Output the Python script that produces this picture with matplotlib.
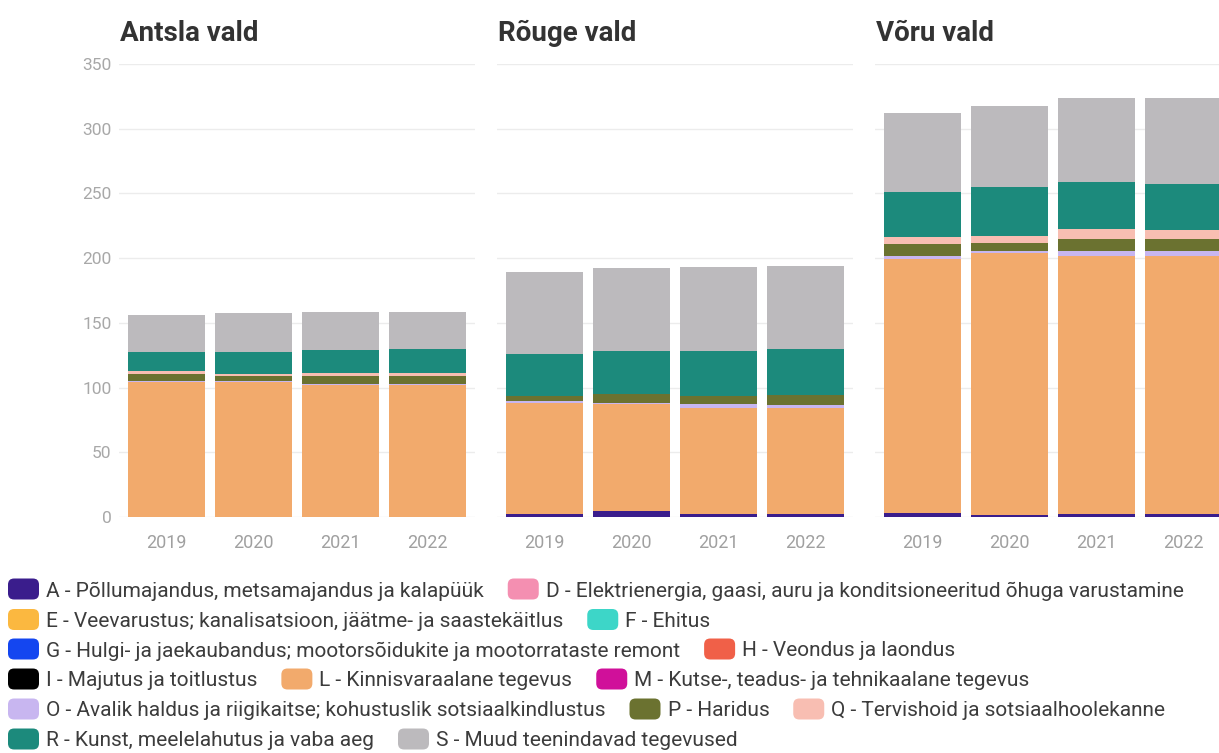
import matplotlib
matplotlib.use('Agg')
import matplotlib.pyplot as plt
from matplotlib.patches import FancyBboxPatch
import numpy as np

years = ['2019', '2020', '2021', '2022']
municipalities = ['Antsla vald', 'Rõuge vald', 'Võru vald']

sector_labels = [
    'A - Põllumajandus, metsamajandus ja kalapüük',
    'D - Elektrienergia, gaasi, auru ja konditsioneeritud õhuga varustamine',
    'E - Veevarustus; kanalisatsioon, jäätme- ja saastekäitlus',
    'F - Ehitus',
    'G - Hulgi- ja jaekaubandus; mootorsõidukite ja mootorrataste remont',
    'H - Veondus ja laondus',
    'I - Majutus ja toitlustus',
    'L - Kinnisvaraalane tegevus',
    'M - Kutse-, teadus- ja tehnikaalane tegevus',
    'O - Avalik haldus ja riigikaitse; kohustuslik sotsiaalkindlustus',
    'P - Haridus',
    'Q - Tervishoid ja sotsiaalhoolekanne',
    'R - Kunst, meelelahutus ja vaba aeg',
    'S - Muud teenindavad tegevused',
]
sector_colors = ['#3a1d8c', '#f48fb1', '#fbb840', '#3dd6c8', '#1446f0', '#f06048',
                 '#000000', '#f2aa6c', '#d0109a', '#c8b6f0', '#6b7230', '#f8beb2',
                 '#1c8a7c', '#bcbabd']

# rows: Antsla, Rõuge, Võru ; columns: 2019..2022
A_vals = [[0, 0, 0, 0], [2.5, 4.5, 2, 2], [3, 1.5, 2, 2]]
D_vals = [[0, 0, 0, 0], [0, 0, 0, 0], [0, 0, 0, 0]]
E_vals = [[0, 0, 0, 0], [0, 0, 0, 0], [0, 0, 0, 0]]
F_vals = [[0, 0, 0, 0], [0, 0, 0, 0], [0, 0, 0, 0]]
G_vals = [[0, 0, 0, 0], [0, 0, 0, 0], [0, 0, 0, 0]]
H_vals = [[0, 0, 0, 0], [0, 0, 0, 0], [0, 0, 0, 0]]
I_vals = [[0, 0, 0, 0], [0, 0, 0, 0], [0, 0, 0, 0]]
L_vals = [[104.5, 104.3, 102, 102], [85.4, 82.8, 82, 82], [196, 202.5, 199.7, 199.5]]
M_vals = [[0, 0, 0, 0], [0, 0, 0, 0], [0, 0, 0, 0]]
O_vals = [[0.5, 0.5, 0.5, 0.5], [1.5, 1, 3, 2.5], [2.5, 1.5, 3.9, 3.9]]
P_vals = [[5.5, 4, 6.5, 6.5], [4.4, 7, 6.6, 7.7], [9.3, 6, 9.3, 9.3]]
Q_vals = [[2, 2, 2, 2], [0, 0, 0, 0], [5.6, 5.8, 7.7, 7]]
R_vals = [[15, 16.5, 18, 18.5], [32.5, 33, 34.7, 35.4], [34.5, 38, 36, 35.3]]
S_vals = [[28.5, 30, 29.5, 29], [62.7, 63.9, 64.7, 64.6], [61.1, 62.6, 65.4, 67]]

all_vals = [A_vals, D_vals, E_vals, F_vals, G_vals, H_vals, I_vals, L_vals,
            M_vals, O_vals, P_vals, Q_vals, R_vals, S_vals]

yticks = [0, 50, 100, 150, 200, 250, 300, 350]

legend_rows = [[0, 1], [2, 3], [4, 5], [6, 7, 8], [9, 10, 11], [12, 13]]

FONT = 'Roboto'
W, H = 1219, 753
fig = plt.figure(figsize=(W / 100, H / 100), dpi=100)

ax_left_px = [118.6, 496.6, 875.0]
ax_w_px = 356.7
y0_px, ytop_px = 517, 64

for mi, name in enumerate(municipalities):
    ax = fig.add_axes([ax_left_px[mi] / W, (H - y0_px) / H, ax_w_px / W, (y0_px - ytop_px) / H])
    x = np.arange(len(years))
    bottom = np.zeros(len(years))
    for si, vals in enumerate(all_vals):
        v = np.array(vals[mi], dtype=float)
        ax.bar(x, v, bottom=bottom, width=0.885, color=sector_colors[si], linewidth=0, zorder=2)
        bottom += v
    ax.set_xlim(-0.55, 3.55)
    ax.set_ylim(0, 350)
    ax.set_yticks(yticks)
    ax.grid(axis='y', color='#ececec', linewidth=1, zorder=0)
    ax.set_axisbelow(True)
    for sp in ax.spines.values():
        sp.set_visible(False)
    ax.set_xticks(x)
    ax.set_xticklabels(years, fontsize=13, color='#a0a0a0', family=FONT)
    ax.tick_params(axis='both', length=0)
    ax.tick_params(axis='x', pad=12)
    if mi == 0:
        ax.set_yticklabels([str(t) for t in yticks], fontsize=12.5, color='#a8a8a8', family=FONT)
        ax.tick_params(axis='y', pad=5)
    else:
        ax.set_yticklabels([])
    fig.text((ax_left_px[mi] + 1) / W, (H - 41) / H, name, fontsize=20, fontweight='bold',
             color='#333333', family=FONT, ha='left', va='baseline')

# custom flow legend
fig.canvas.draw()
renderer = fig.canvas.get_renderer()
row_y = [589, 619.5, 649, 679, 709, 739]
patch_w, patch_h = 31, 21
for ri, row in enumerate(legend_rows):
    xcur = 8
    yc = row_y[ri]
    for si in row:
        p = FancyBboxPatch(((xcur) / W, (H - yc - patch_h / 2) / H), patch_w / W, patch_h / H,
                           boxstyle='round,pad=0,rounding_size=0.005',
                           transform=fig.transFigure, facecolor=sector_colors[si],
                           edgecolor='none', mutation_aspect=W / H)
        fig.add_artist(p)
        t = fig.text((xcur + patch_w + 7) / W, (H - yc) / H, sector_labels[si], fontsize=15,
                     color='#3c3c3c', family=FONT, ha='left', va='center_baseline')
        bb = t.get_window_extent(renderer)
        xcur = bb.x1 + 24

fig.savefig('out.png', dpi=100)
